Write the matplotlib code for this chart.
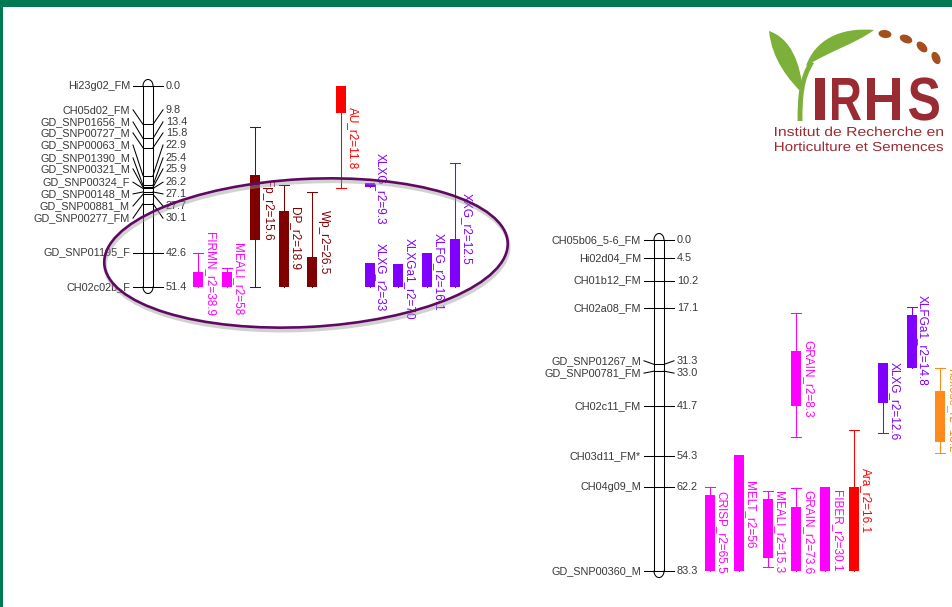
import numpy as np
import matplotlib.pyplot as plt
from matplotlib.patches import Ellipse, Rectangle, PathPatch
from matplotlib.path import Path
from matplotlib.textpath import TextPath
from matplotlib.font_manager import FontProperties
from matplotlib.transforms import Affine2D

plt.rcParams['font.family'] = ['Liberation Sans', 'DejaVu Sans']

W, H = 953, 607

# ---- linkage group A (upper left) ----
lgA_markers = ['Hi23g02_FM', 'CH05d02_FM', 'GD_SNP01656_M', 'GD_SNP00727_M',
               'GD_SNP00063_M', 'GD_SNP01390_M', 'GD_SNP00321_M', 'GD_SNP00324_F',
               'GD_SNP00148_M', 'GD_SNP00881_M', 'GD_SNP00277_FM', 'GD_SNP01195_F',
               'CH02c02b_F']
lgA_pos = [0.0, 9.8, 13.4, 15.8, 22.9, 25.4, 25.9, 26.2, 27.1, 27.7, 30.1, 42.6, 51.4]

lgA_trait = ['FIRMN', 'MEALI', 'Fp', 'DP', 'Wp', 'AU', 'XLXG', 'XLXG', 'XLXGa1', 'XLFG', 'XXG']
lgA_r2 = [38.9, 58, 15.6, 18.9, 26.5, 11.8, 9.3, 33, 70, 16.1, 12.5]
lgA_box = [(47.6, 51.4), (47.6, 51.4), (22.8, 39.4), (32.0, 51.4), (43.7, 51.4),
           (0.0, 6.9), (24.8, 25.8), (45.3, 51.4), (45.5, 51.4), (42.7, 51.4), (39.1, 51.4)]
lgA_whisker = [(42.7, 51.4), (46.5, 51.4), (10.5, 51.4), (25.3, 51.4), (27.1, 51.4),
               (0.0, 26.1), (24.8, 25.8), (45.3, 51.4), (45.5, 51.4), (42.7, 51.4), (19.7, 51.4)]

# ---- linkage group B (lower right) ----
lgB_markers = ['CH05b06_5-6_FM', 'Hi02d04_FM', 'CH01b12_FM', 'CH02a08_FM',
               'GD_SNP01267_M', 'GD_SNP00781_FM', 'CH02c11_FM', 'CH03d11_FM*',
               'CH04g09_M', 'GD_SNP00360_M']
lgB_pos = [0.0, 4.5, 10.2, 17.1, 31.3, 33.0, 41.7, 54.3, 62.2, 83.3]

lgB_trait = ['CRISP', 'MELT', 'MEALI', 'GRAIN', 'GRAIN', 'FIBER', 'Ara', 'XLXG', 'XLFGa1', 'hexose']
lgB_r2 = [65.5, 56, 15.3, 73.6, 8.3, 30.1, 16.1, 12.6, 14.8, 13.2]
lgB_box = [(64.2, 83.3), (54.1, 83.3), (65.2, 80.0), (67.2, 83.3), (27.9, 41.8),
           (62.2, 83.3), (62.2, 83.3), (31.0, 41.0), (18.9, 32.2), (38.0, 50.8)]
lgB_whisker = [(62.2, 83.3), (54.1, 83.3), (63.2, 82.3), (62.4, 83.3), (18.4, 49.6),
               (62.2, 83.3), (47.8, 83.3), (31.0, 48.6), (16.9, 32.2), (32.2, 53.6)]

# ---- layout: where each group sits (pixels), label rows, qtl columns ----
layA = dict(cx=148, y0=86, scale=3.91, col0=198, step=28.6)
layB = dict(cx=659, y0=240, scale=3.974, col0=710, step=28.8)

lgA_label_rows = [0.0, 6.1, 9.2, 12.0, 15.1, 18.4, 21.2, 24.6, 27.6, 30.7, 33.8, 42.6, 51.4]
lgB_label_rows = [0.0, 4.5, 10.2, 17.1, 30.4, 33.5, 41.7, 54.3, 62.2, 83.3]

lgA_cols = [0, 1, 2, 3, 4, 5, 6, 6, 7, 8, 9]
lgA_text_at = [37.3, 40.2, 24.0, 30.9, 31.7, 5.4, 17.1, 40.2, 38.9, 37.6, 27.4]
lgB_cols = [0, 1, 2, 3, 3, 4, 5, 6, 7, 8]
lgB_text_at = [63.2, 60.6, 63.2, 62.9, 25.2, 62.9, 57.4, 30.7, 13.8, 32.2]

MAG, DRED, RED, PURP, ORNG = '#FF00FF', '#800000', '#FF0000', '#8000FF', '#FF8C1A'
trait_color = {'FIRMN': MAG, 'MEALI': MAG, 'CRISP': MAG, 'MELT': MAG, 'GRAIN': MAG,
               'FIBER': MAG, 'Fp': DRED, 'DP': DRED, 'Wp': DRED, 'AU': RED, 'Ara': RED,
               'XLXG': PURP, 'XLXGa1': PURP, 'XLFG': PURP, 'XXG': PURP, 'XLFGa1': PURP,
               'hexose': ORNG}

TXT = '#383838'
LW = 0.75


def draw_group(ax, lay, names, pos, rows, traits, r2, boxes, whiskers, cols, text_at):
    cx, y0, s = lay['cx'], lay['y0'], lay['scale']
    ax.set_xlim(0, W)
    ax.set_ylim((H - y0) / s, -y0 / s)
    ax.axis('off')
    hw = 5
    end = max(pos)
    # chromosome body with rounded ends
    ax.plot([cx - hw, cx - hw], [0, end], color='k', lw=LW)
    ax.plot([cx + hw, cx + hw], [0, end], color='k', lw=LW)
    t = np.linspace(0, np.pi, 40)
    cap = 6.5 / s
    ax.plot(cx + hw * np.cos(t), -cap * np.sin(t), color='k', lw=LW)
    ax.plot(cx + hw * np.cos(t), end + cap * np.sin(t), color='k', lw=LW)

    # markers, with connectors to the spread-out label rows
    for name, p, r in zip(names, pos, rows):
        ax.plot([cx - hw, cx + hw], [p, p], color='k', lw=LW)
        ax.plot([cx - 15, cx - hw], [r, p], color='k', lw=LW)
        ax.plot([cx + hw, cx + 15], [p, r], color='k', lw=LW)
        ax.text(cx - 18, r, name, ha='right', va='center', fontsize=7.8, color=TXT)
        ax.text(cx + 18, r, f'{p:.1f}', ha='left', va='center', fontsize=7.8, color=TXT)

    # QTL: box = LOD-1 interval, whiskers = LOD-2 interval
    for tr, v, (b0, b1), (w0, w1), c, ta in zip(traits, r2, boxes, whiskers, cols, text_at):
        x = lay['col0'] + lay['step'] * c
        col = trait_color[tr]
        ax.plot([x, x], [w0, w1], color=col, lw=LW)
        for w, b in ((w0, b0), (w1, b1)):
            if w != b:
                ax.plot([x - 5, x + 5], [w, w], color=col, lw=LW)
        ax.add_patch(Rectangle((x - 5, b0), 10, b1 - b0, facecolor=col, edgecolor='none'))
        ax.text(x + 5.5, ta, f'{tr}_r2={v:g}', rotation=-90, ha='left', va='top',
                color=col, fontsize=8.5)


def fit_text(ax, s, x0, x1, baseline, cap_h, color, weight='normal'):
    fp = FontProperties(family='Liberation Sans', weight=weight)
    tp = TextPath((0, 0), s, size=100, prop=fp)
    ref = TextPath((0, 0), 'H', size=100, prop=fp).get_extents()
    ext = tp.get_extents()
    sx = (x1 - x0) / ext.width
    sy = cap_h / ref.height
    tr = Affine2D().translate(-ext.x0, 0).scale(sx, -sy).translate(x0, baseline)
    ax.add_patch(PathPatch(tr.transform_path(tp), facecolor=color, edgecolor='none'))


fig = plt.figure(figsize=(W / 100, H / 100), dpi=100)

axA = fig.add_axes([0, 0, 1, 1])
draw_group(axA, layA, lgA_markers, lgA_pos, lgA_label_rows, lgA_trait, lgA_r2,
           lgA_box, lgA_whisker, lgA_cols, lgA_text_at)
axB = fig.add_axes([0, 0, 1, 1])
draw_group(axB, layB, lgB_markers, lgB_pos, lgB_label_rows, lgB_trait, lgB_r2,
           lgB_box, lgB_whisker, lgB_cols, lgB_text_at)

# overlay in pixel coordinates: frame, highlight ellipse, institute logo
ov = fig.add_axes([0, 0, 1, 1])
ov.set_xlim(0, W)
ov.set_ylim(H, 0)
ov.axis('off')

green = '#007A53'
ov.add_patch(Rectangle((0, 0), W, 7, facecolor=green, edgecolor='none'))
ov.add_patch(Rectangle((0, 0), 3, H, facecolor=green, edgecolor='none'))

ov.add_patch(Ellipse((307, 256), 404, 148, angle=-3, fill=False,
                     edgecolor='#9a9a9a', lw=2.6, alpha=0.45))
ov.add_patch(Ellipse((306, 253), 404, 148, angle=-3, fill=False,
                     edgecolor='#5F0A61', lw=1.9))

leaf = '#7DB03A'
big_leaf = Path([(806, 66), (815, 40), (840, 27), (874, 30),
                 (855, 44), (832, 50), (806, 66), (806, 66)],
                [Path.MOVETO, Path.CURVE4, Path.CURVE4, Path.CURVE4,
                 Path.CURVE4, Path.CURVE4, Path.CURVE4, Path.CLOSEPOLY])
small_leaf = Path([(769, 31), (790, 38), (801, 62), (803, 94),
                   (789, 80), (772, 60), (769, 31), (769, 31)],
                  [Path.MOVETO, Path.CURVE4, Path.CURVE4, Path.CURVE4,
                   Path.CURVE4, Path.CURVE4, Path.CURVE4, Path.CLOSEPOLY])
stem = Path([(800, 121), (800, 98), (801, 78), (812, 62)],
            [Path.MOVETO, Path.CURVE4, Path.CURVE4, Path.CURVE4])
ov.add_patch(PathPatch(big_leaf, facecolor=leaf, edgecolor='none'))
ov.add_patch(PathPatch(small_leaf, facecolor=leaf, edgecolor='none'))
ov.add_patch(PathPatch(stem, facecolor='none', edgecolor=leaf, lw=3.5, capstyle='butt'))

brown = '#A4501E'
for (dx, dy), ang in zip([(885, 34), (906, 39), (922, 47), (936, 58)], [8, 22, 45, 65]):
    ov.add_patch(Ellipse((dx, dy), 13, 8, angle=ang, facecolor=brown, edgecolor='none'))

logo_red = '#9B2B33'
# letters of the acronym placed one by one so they keep the open spacing
for ch, (a, b) in zip('IRHS', [(815, 825), (832, 861), (867, 900), (909, 939)]):
    fit_text(ov, ch, a, b, 120, 42, logo_red, weight='bold')
fit_text(ov, 'Institut de Recherche en', 775, 943, 136, 9, logo_red)
fit_text(ov, 'Horticulture et Semences', 775, 943, 151, 9, logo_red)

fig.savefig('out.png', dpi=100)
